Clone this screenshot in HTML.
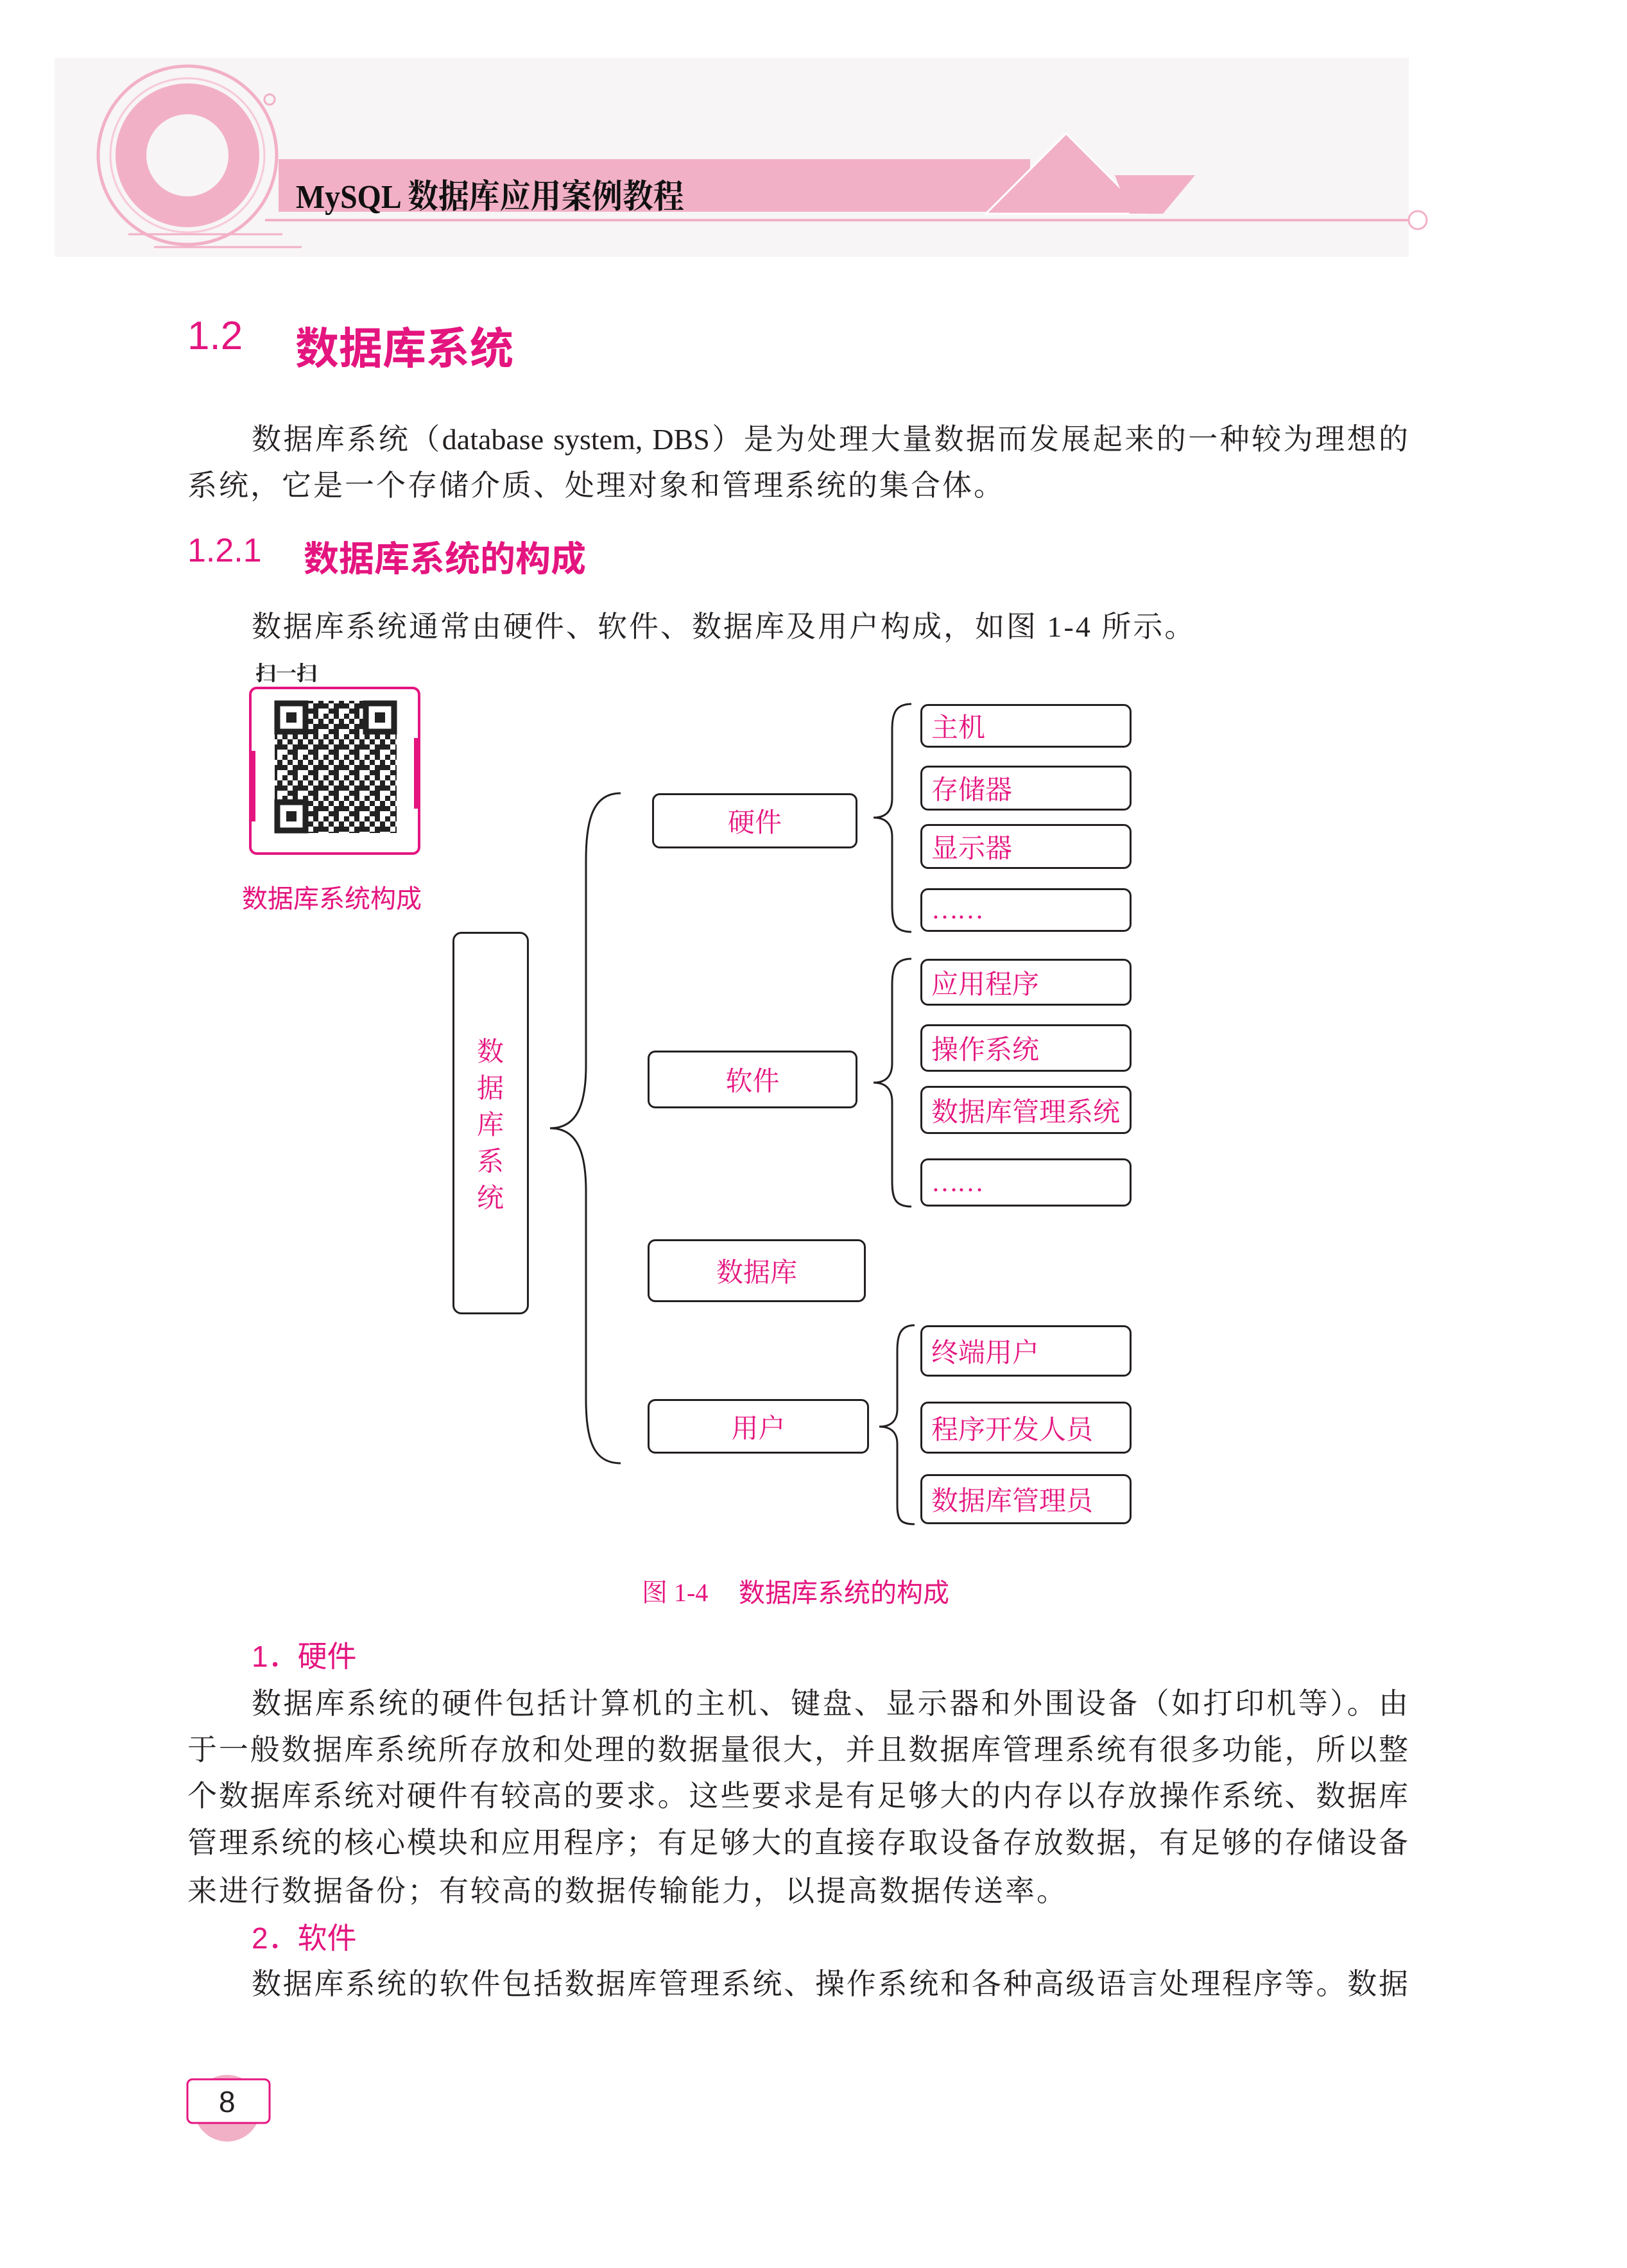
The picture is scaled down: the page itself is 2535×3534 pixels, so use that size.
<!DOCTYPE html>
<html><head><meta charset="utf-8"><style>
body{margin:0;width:2535px;height:3534px;background:#fff;position:relative;overflow:hidden}
.t{position:absolute;white-space:nowrap;font-family:"Liberation Serif","Noto Serif CJK SC",serif;color:#231f20}
.j{text-align:justify;text-align-last:justify}
.p{color:#e4157f}
.s{font-family:"Liberation Sans","Noto Sans CJK SC",sans-serif}
.b{position:absolute;box-sizing:border-box;border:3px solid #231f20;border-radius:12px;display:flex;align-items:center;justify-content:center;font-family:"Liberation Serif","Noto Serif CJK SC",serif;color:#e4157f;font-size:42px;white-space:nowrap}
.r{justify-content:flex-start;padding-left:14px;left:1434px;width:329px}
</style></head><body>
<svg width="2535" height="3534" style="position:absolute;left:0;top:0">
<rect x="85" y="90" width="2110" height="310" fill="#f7f5f6"/>
<rect x="434" y="248" width="1171" height="82" fill="#f2b0c7"/>
<polygon points="1661,208 1536,333 1786,333" fill="#f2b0c7" stroke="#fff" stroke-width="3"/>
<polygon points="1737,273 1862,273 1812,333 1760,333" fill="#f2b0c7"/>
<line x1="413" y1="343" x2="2195" y2="343" stroke="#f2b0c7" stroke-width="4"/>
<circle cx="2209" cy="343" r="14" fill="none" stroke="#f2b0c7" stroke-width="3"/>
<circle cx="292" cy="242" r="139" fill="none" stroke="#f2b0c7" stroke-width="5"/>
<circle cx="292" cy="242" r="120" fill="none" stroke="#f7c9d8" stroke-width="3"/>
<circle cx="292" cy="242" r="88" fill="none" stroke="#f2b0c7" stroke-width="48"/>
<line x1="200" y1="365" x2="440" y2="365" stroke="#f2b0c7" stroke-width="3"/>
<line x1="240" y1="385" x2="470" y2="385" stroke="#f2b0c7" stroke-width="3"/>
<circle cx="420" cy="155" r="8" fill="none" stroke="#f2b0c7" stroke-width="3"/>
<!-- QR -->
<rect x="390" y="1072" width="263" height="258" rx="10" fill="none" stroke="#e4157f" stroke-width="4"/>
<rect x="388" y="1170" width="10" height="110" fill="#e4157f"/>
<rect x="645" y="1150" width="10" height="110" fill="#e4157f"/>
<defs><pattern id="qr" width="32" height="32" patternUnits="userSpaceOnUse">
<rect x="0" y="0" width="8" height="8" fill="#222"/><rect x="16" y="0" width="8" height="16" fill="#222"/>
<rect x="8" y="8" width="8" height="8" fill="#222"/><rect x="24" y="8" width="8" height="8" fill="#222"/>
<rect x="0" y="16" width="16" height="8" fill="#222"/><rect x="24" y="24" width="8" height="8" fill="#222"/>
<rect x="8" y="24" width="8" height="8" fill="#222"/></pattern></defs>
<rect x="428" y="1092" width="190" height="206" fill="url(#qr)"/>
<g fill="#fff" stroke="#222" stroke-width="9">
<rect x="432" y="1096" width="44" height="44"/><rect x="570" y="1096" width="44" height="44"/><rect x="432" y="1250" width="44" height="44"/></g>
<g fill="#222"><rect x="446" y="1110" width="16" height="16"/><rect x="584" y="1110" width="16" height="16"/><rect x="446" y="1264" width="16" height="16"/></g>
<!-- braces -->
<g fill="none" stroke="#231f20" stroke-width="3">
<path d="M967,1236 C925,1236 913,1275 913,1340 L913,1660 C913,1725 897,1758 857,1758 C897,1758 913,1791 913,1856 L913,2180 C913,2245 925,2280 967,2280"/>
<path d="M1420,1097 C1395,1097 1390,1112 1390,1137 L1390,1244 C1390,1264 1380,1274 1361,1274 C1380,1274 1390,1284 1390,1304 L1390,1412 C1390,1440 1395,1452 1420,1452"/>
<path d="M1420,1494 C1395,1494 1390,1509 1390,1534 L1390,1657 C1390,1677 1380,1687 1361,1687 C1380,1687 1390,1697 1390,1717 L1390,1840 C1390,1868 1395,1880 1420,1880"/>
<path d="M1425,2065 C1403,2065 1398,2080 1398,2105 L1398,2196 C1398,2214 1388,2223 1370,2223 C1388,2223 1398,2232 1398,2250 L1398,2345 C1398,2368 1403,2375 1425,2375"/>
</g>
<circle cx="354" cy="3285" r="52" fill="#f2b0c7"/>
<rect x="292" y="3240" width="128" height="68" rx="8" fill="#fff" stroke="#e4157f" stroke-width="3"/>
</svg>
<div class="t" style="left:461px;top:264px;font-size:52px;font-weight:bold;color:#111;transform:scaleX(0.92);transform-origin:left">MySQL 数据库应用案例教程</div>
<div class="t" style="left:398px;top:1024px;font-size:32px;color:#222;font-weight:bold;background:#fff">扫一扫</div>
<div class="t s p" style="left:292px;top:488px;font-size:62px">1.2</div>
<div class="t s p" style="left:460px;top:488px;font-size:68px;font-weight:bold">数据库系统</div>
<div class="t j" style="left:392px;top:648px;width:1802px;font-size:46px">数据库系统（database system, DBS）是为处理大量数据而发展起来的一种较为理想的</div>
<div class="t" style="left:292px;top:720px;font-size:46px;letter-spacing:3px">系统，它是一个存储介质、处理对象和管理系统的集合体。</div>
<div class="t s p" style="left:292px;top:828px;font-size:52px">1.2.1</div>
<div class="t s p" style="left:473px;top:826px;font-size:55px;font-weight:bold">数据库系统的构成</div>
<div class="t" style="left:392px;top:940px;font-size:46px;letter-spacing:3px">数据库系统通常由硬件、软件、数据库及用户构成，如图 1-4 所示。</div>
<div class="t s p" style="left:377px;top:1368px;font-size:40px">数据库系统构成</div>

<div class="b" style="left:705px;top:1452px;width:119px;height:596px;border-radius:14px"></div>
<div class="t p" style="left:743px;top:1612px;font-size:42px;line-height:57px;white-space:normal;width:44px">数据库系统</div>
<div class="b" style="left:1016px;top:1236px;width:320px;height:86px">硬件</div>
<div class="b" style="left:1009px;top:1637px;width:327px;height:90px">软件</div>
<div class="b" style="left:1009px;top:1931px;width:340px;height:98px">数据库</div>
<div class="b" style="left:1009px;top:2180px;width:345px;height:85px">用户</div>
<div class="b r" style="top:1097px;height:68px">主机</div>
<div class="b r" style="top:1193px;height:70px">存储器</div>
<div class="b r" style="top:1284px;height:70px">显示器</div>
<div class="b r" style="top:1384px;height:68px;letter-spacing:-2px">……</div>
<div class="b r" style="top:1494px;height:73px">应用程序</div>
<div class="b r" style="top:1596px;height:74px">操作系统</div>
<div class="b r" style="top:1692px;height:75px">数据库管理系统</div>
<div class="b r" style="top:1805px;height:75px;letter-spacing:-2px">……</div>
<div class="b r" style="top:2065px;height:80px">终端用户</div>
<div class="b r" style="top:2184px;height:81px">程序开发人员</div>
<div class="b r" style="top:2297px;height:78px">数据库管理员</div>

<div class="t p" style="left:1000px;top:2450px;font-size:40px">图 1-4</div>
<div class="t s p" style="left:1151px;top:2448px;font-size:41px">数据库系统的构成</div>
<div class="t s p" style="left:392px;top:2545px;font-size:46px">1．硬件</div>
<div class="t j" style="left:392px;top:2618px;width:1802px;font-size:46px">数据库系统的硬件包括计算机的主机、键盘、显示器和外围设备（如打印机等）。由</div>
<div class="t j" style="left:292px;top:2690px;width:1902px;font-size:46px">于一般数据库系统所存放和处理的数据量很大，并且数据库管理系统有很多功能，所以整</div>
<div class="t j" style="left:292px;top:2762px;width:1902px;font-size:46px">个数据库系统对硬件有较高的要求。这些要求是有足够大的内存以存放操作系统、数据库</div>
<div class="t j" style="left:292px;top:2835px;width:1902px;font-size:46px">管理系统的核心模块和应用程序；有足够大的直接存取设备存放数据，有足够的存储设备</div>
<div class="t" style="left:292px;top:2910px;font-size:46px;letter-spacing:3px">来进行数据备份；有较高的数据传输能力，以提高数据传送率。</div>
<div class="t s p" style="left:392px;top:2984px;font-size:46px">2．软件</div>
<div class="t j" style="left:392px;top:3055px;width:1802px;font-size:46px">数据库系统的软件包括数据库管理系统、操作系统和各种高级语言处理程序等。数据</div>
<div class="t s" style="left:341px;top:3248px;font-size:46px">8</div>
</body></html>
